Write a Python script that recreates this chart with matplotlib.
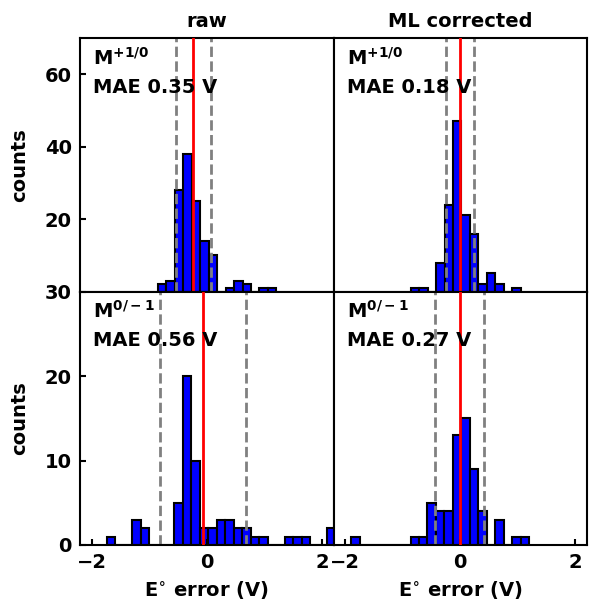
import numpy as np
import matplotlib
matplotlib.use("Agg")
import matplotlib.pyplot as plt

# ---------------- data ----------------
col_titles = ["raw", "ML corrected"]
row_labels = [r"$\mathbf{M^{+1/0}}$", r"$\mathbf{M^{0/-1}}$"]
mae_labels = [["MAE 0.35 V", "MAE 0.18 V"], ["MAE 0.56 V", "MAE 0.27 V"]]

bin_width = 0.147
# first bin edge of each panel
bin_start_top_raw = -0.849
bin_start_top_ml = -0.861
bin_start_bot_raw = -1.736
bin_start_bot_ml = -1.892

counts_top_raw = [2, 3, 28, 38, 25, 14, 10, 0, 1, 3, 2, 0, 1, 1]
counts_top_ml = [1, 1, 0, 8, 24, 47, 21, 16, 2, 5, 2, 0, 1]
counts_bot_raw = [1, 0, 0, 3, 2, 0, 0, 0, 5, 20, 10, 2, 2, 3, 3, 2, 2, 1, 1,
                  0, 0, 1, 1, 1, 0, 0, 2]
counts_bot_ml = [1, 0, 0, 0, 0, 0, 0, 1, 1, 5, 4, 4, 13, 15, 9, 4, 0, 3, 0, 1, 1]

# mean (red) and mean +/- spread (grey dashed)
mean_top = [-0.230, -0.009]
mean_bot = [-0.066, -0.009]
lo_top = [-0.536, -0.240]
hi_top = [0.078, 0.240]
lo_bot = [-0.803, -0.431]
hi_bot = [0.682, 0.414]

xticks = [-2, 0, 2]
yticks_top = [20, 40, 60]
yticks_bot = [0, 10, 20, 30]

# ---------------- style ----------------
plt.rcParams["font.family"] = ["DejaVu Sans"]
plt.rcParams["font.weight"] = "bold"
plt.rcParams["axes.labelweight"] = "bold"
plt.rcParams["axes.titleweight"] = "bold"
plt.rcParams["mathtext.default"] = "bf"
plt.rcParams["axes.linewidth"] = 1.5

fig, axes = plt.subplots(2, 2, figsize=(5.89, 6.04), dpi=100)
fig.subplots_adjust(left=80 / 589, right=587 / 589, top=1 - 38 / 604,
                    bottom=1 - 545 / 604, hspace=0, wspace=0)

panels = [
    [(bin_start_top_raw, counts_top_raw), (bin_start_top_ml, counts_top_ml)],
    [(bin_start_bot_raw, counts_bot_raw), (bin_start_bot_ml, counts_bot_ml)],
]
means = [mean_top, mean_bot]
los = [lo_top, lo_bot]
his = [hi_top, hi_bot]

for r in range(2):
    for c in range(2):
        ax = axes[r][c]
        start, cnts = panels[r][c]
        edges = start + bin_width * np.arange(len(cnts))
        ax.bar(edges, cnts, width=bin_width, align="edge", color="#0000ff",
               edgecolor="black", linewidth=1.5, zorder=1)
        ax.axvline(los[r][c], color="gray", ls="--", lw=2, zorder=2)
        ax.axvline(his[r][c], color="gray", ls="--", lw=2, zorder=2)
        ax.axvline(means[r][c], color="red", lw=2, zorder=3)
        ax.set_xlim(-2.2, 2.2)
        ax.set_xticks(xticks)
        ax.tick_params(direction="in", length=4, width=1.5, labelsize=14,
                       pad=6)
        if r == 0:
            ax.set_ylim(0, 70)
            ax.set_yticks(yticks_top)
            ax.set_title(col_titles[c], fontsize=14, pad=8)
            ax.tick_params(axis="x", bottom=False, labelbottom=False)
        else:
            ax.set_ylim(0, 30)
            ax.set_yticks(yticks_bot)
            ax.set_xlabel(r"E$^{\circ}$ error (V)", fontsize=14, labelpad=5)
        if c == 1:
            ax.tick_params(axis="y", left=False, labelleft=False)
        else:
            ax.set_ylabel("counts", fontsize=14)
            ax.yaxis.set_label_coords(-0.2, 0.5)
        ax.text(0.052, 0.895, row_labels[r], transform=ax.transAxes,
                fontsize=14, va="baseline", ha="left", zorder=5)
        ax.text(0.052, 0.785, mae_labels[r][c], transform=ax.transAxes,
                fontsize=14, va="baseline", ha="left", zorder=5)

fig.savefig("out.png", dpi=100)
